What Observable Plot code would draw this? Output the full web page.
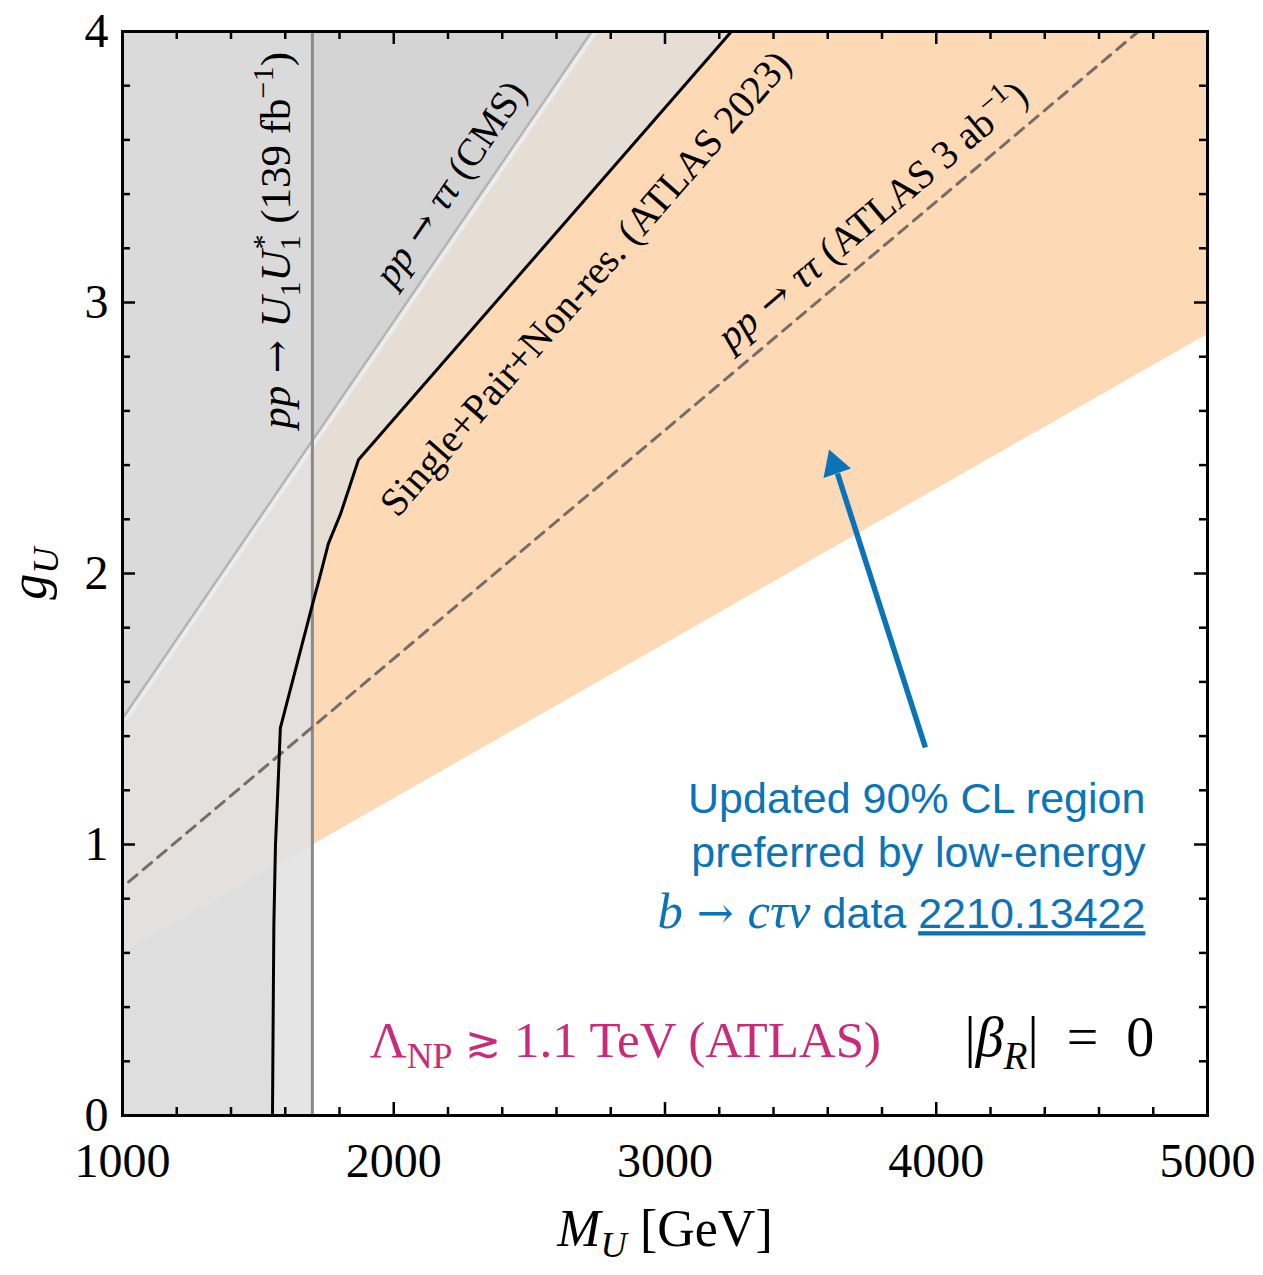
<!DOCTYPE html>
<html><head><meta charset="utf-8">
<script src="https://cdn.jsdelivr.net/npm/d3@7"></script>
<script src="https://cdn.jsdelivr.net/npm/@observablehq/plot@0.6"></script>
<style>body{margin:0;background:#fff}</style>
</head><body><div id="chart"></div>
<script>
// ---------- data ----------
const xDomain = [1000, 5000];
const yDomain = [0, 4];
const xTicks = [1000, 2000, 3000, 4000, 5000];
const yTicks = [0, 1, 2, 3, 4];
// ATLAS 2023 combined exclusion (Single+Pair+Non-res.)
const atlasM = [1553, 1555, 1558, 1564, 1571, 1582, 1704, 1723, 1759, 1804, 1870, 3245];
const atlasG = [0, 0.3, 0.7, 1.0, 1.16, 1.43, 1.90, 1.97, 2.11, 2.22, 2.42, 4.0];
// CMS pp -> tau tau boundary
const cmsM = [1000, 2730];
const cmsG = [1.465, 4.0];
// pair production bound (139 fb^-1)
const pairM = 1700;
// HL-LHC projection pp -> tau tau (ATLAS 3 ab^-1), dashed
const projM = [1000, 4745];
const projG = [0.843, 4.0];
// lower edge of the preferred 90% CL region
const prefM = [1000, 5000];
const prefG = [0.60, 2.885];
// blue arrow (shaft start, shaft end) and head centre
const arrowM = [3960, 3636];
const arrowG = [1.358, 2.369];
const headM = [3625];
const headG = [2.399];
// text labels
const labelText = [
  "pp → U1U1* (139 fb-1)",
  "pp → ττ (CMS)",
  "Single+Pair+Non-res. (ATLAS 2023)",
  "pp → ττ (ATLAS 3ab-1)"
];
const labelM = [1568, 2209, 2707, 3765];
const labelG = [3.229, 3.439, 3.070, 3.321];
const labelAngle = [-90, -55.7, -48.9, -40.1];
const blueLines = ["Updated 90% CL region", "preferred by low-energy", "b → cτν data 2210.13422"];
const blueG = [1.166, 0.967, 0.742];
const blueM = 4771;
const lambdaText = "ΛNP ≳ 1.1 TeV (ATLAS)";
const betaText = "|βR| = 0";

// ---------- geometry helpers ----------
const lin = (M, G) => m => G[0] + (G[1] - G[0]) * (m - M[0]) / (M[1] - M[0]);
const prefAt = lin(prefM, prefG);
const cmsAt = lin(cmsM, cmsG);
function clipBelow(poly, f) {
  const out = [];
  for (let i = 0; i < poly.length; i++) {
    const a = poly[i], b = poly[(i + 1) % poly.length];
    const da = f(a[0]) - a[1], db = f(b[0]) - b[1];
    if (da >= 0) out.push(a);
    if ((da >= 0) !== (db >= 0)) {
      const t = da / (da - db);
      out.push([a[0] + t * (b[0] - a[0]), a[1] + t * (b[1] - a[1])]);
    }
  }
  return out;
}
const [x0, x1] = xDomain, [y0, y1] = yDomain;
const orangePoly = [[prefM[0], prefG[0]], [prefM[1], prefG[1]], [x1, y1], [x0, y1]];
const atlasPoly = [[x0, y0], ...atlasM.map((m, i) => [m, atlasG[i]]), [x0, y1]];
const pairPoly = [[x0, y0], [pairM, y0], [pairM, y1], [x0, y1]];
const pairBelow = [[x0, y0], [pairM, y0], [pairM, prefAt(pairM)], [x0, prefAt(x0)]];
const atlasBelow = clipBelow(atlasPoly, prefAt);
const cmsLeft = [[cmsM[0], cmsG[0]], [pairM, cmsAt(pairM)], [pairM, y1], [x0, y1]];
const cmsRight = [[pairM, cmsAt(pairM)], [cmsM[1], cmsG[1]], [pairM, y1]];

const poly = (pts, fill) => Plot.line(pts, {x: d => d[0], y: d => d[1], fill, stroke: "none"});

// tick marks (inward, on all four sides)
const pxX = 1085 / (x1 - x0), pxY = 1084 / (y1 - y0);
const majLx = 13 / pxX, minLx = 8 / pxX, majLy = 13 / pxY, minLy = 8 / pxY;
const xMinor = d3.range(x0, x1 + 1, 200).filter(v => !xTicks.includes(v));
const yMinor = d3.range(0, 21).map(i => i / 5).filter(v => !yTicks.includes(v));
const tk = {stroke: "black", strokeWidth: 2.5};

const serif = "'Liberation Serif','DejaVu Serif',serif";
const sans = "'Liberation Sans','DejaVu Sans',sans-serif";
const arrowFont = "'DejaVu Serif',serif";
const blue = "#0b74b9";

const marks = [
  poly(orangePoly, "#fdd9b5"),
  poly(atlasPoly, "#e6ddd5"),
  poly(pairPoly, "#e3e0dd"),
  poly(pairBelow, "#e5e5e5"),
  poly(atlasBelow, "#dedede"),
  poly(cmsRight, "#d4d4d4"),
  poly(cmsLeft, "#dadada"),
  // CMS edge
  Plot.line(cmsM.map((m, i) => [m, cmsG[i]]), {x: d => d[0], y: d => d[1], stroke: "#ececec", strokeWidth: 5, dx: 3.5, clip: true}),
  Plot.line(cmsM.map((m, i) => [m, cmsG[i]]), {x: d => d[0], y: d => d[1], stroke: "#b4b4b4", strokeWidth: 2.5}),
  // pair line
  Plot.ruleX([pairM], {x: d => d, y1: y0, y2: y1, stroke: "#8a8a8a", strokeWidth: 3}),
  // projection dashed
  Plot.line(projM.map((m, i) => [m, projG[i]]), {x: d => d[0], y: d => d[1], stroke: "#756d68", strokeWidth: 3, strokeDasharray: "11,8", strokeDashoffset: -8}),
  // ATLAS boundary
  Plot.line(atlasM.map((m, i) => [m, atlasG[i]]), {x: d => d[0], y: d => d[1], stroke: "black", strokeWidth: 3}),
  // arrow
  Plot.link([0], {x1: () => arrowM[0], y1: () => arrowG[0], x2: () => arrowM[1], y2: () => arrowG[1], stroke: blue, strokeWidth: 5.5}),
  Plot.dot([0], {x: () => headM[0], y: () => headG[0], symbol: "triangle", r: 10.8, rotate: -19, fill: blue, stroke: "none"}),
  // ticks
  Plot.ruleX(xTicks, {x: d => d, y1: y0, y2: y0 + majLy, ...tk}),
  Plot.ruleX(xMinor, {x: d => d, y1: y0, y2: y0 + minLy, ...tk}),
  Plot.ruleX(xTicks, {x: d => d, y1: y1 - majLy, y2: y1, ...tk}),
  Plot.ruleX(xMinor, {x: d => d, y1: y1 - minLy, y2: y1, ...tk}),
  Plot.ruleY(yTicks, {y: d => d, x1: x0, x2: x0 + majLx, ...tk}),
  Plot.ruleY(yMinor, {y: d => d, x1: x0, x2: x0 + minLx, ...tk}),
  Plot.ruleY(yTicks, {y: d => d, x1: x1 - majLx, x2: x1, ...tk}),
  Plot.ruleY(yMinor, {y: d => d, x1: x1 - minLx, x2: x1, ...tk}),
  Plot.frame({stroke: "black", strokeWidth: 3}),
  // rotated labels
  ...labelText.map((t, i) => Plot.text([t], {
    x: () => labelM[i], y: () => labelG[i], text: d => d, rotate: labelAngle[i],
    fontSize: [43, 39, 40, 40][i], fill: "black", fontFamily: serif
  })),
  // blue annotation
  ...blueLines.map((t, i) => Plot.text([t], {
    x: () => blueM, y: () => blueG[i], text: d => d, textAnchor: "end",
    fontSize: 43, fill: blue, fontFamily: sans
  })),
  Plot.text([lambdaText], {x: () => 2854, y: () => 0.277, text: d => d, fontSize: 51, fill: "#c92a7a", fontFamily: serif}),
  Plot.text([betaText], {x: () => 4454, y: () => 0.284, text: d => d, fontSize: 56, fill: "black", fontFamily: serif}),
  // axis titles
  Plot.text(["M_U [GeV]"], {frameAnchor: "bottom", dy: 130, text: d => d, fontSize: 52, fontFamily: serif}),
  Plot.text(["g_U"], {frameAnchor: "left", textAnchor: "middle", dx: -93, rotate: -90, text: d => d, fontSize: 52, fontFamily: serif})
];

const plot = Plot.plot({
  width: 1263, height: 1275,
  marginTop: 31, marginRight: 56, marginBottom: 160, marginLeft: 122,
  style: {fontFamily: serif, fontSize: "48px", color: "black", background: "white"},
  x: {domain: xDomain, ticks: xTicks, tickFormat: d3.format("d"), tickSize: 0, tickPadding: 27, label: null},
  y: {domain: yDomain, ticks: yTicks, tickFormat: d3.format("d"), tickSize: 0, tickPadding: 14, label: null},
  marks
});
document.getElementById("chart").append(plot);

// ---------- rich text (sub/superscripts, italics) ----------
const AR = {f: arrowFont, s: 0.92};
const rich = {
  "pp → U1U1* (139 fb-1)": [["pp", {i: 1}], [" → ", AR], ["U", {i: 1}], ["1", {sub: 1}], ["U", {i: 1}], ["1", {sub: 1}], ["*", {sup: 1, dx: -0.33}], [" (139 fb", {}], ["−1", {sup: 1}], [")", {}]],
  "pp → ττ (CMS)": [["pp", {i: 1}], [" → ", AR], ["ττ", {i: 1}], [" (CMS)", {}]],
  "pp → ττ (ATLAS 3ab-1)": [["pp", {i: 1}], [" → ", AR], ["ττ", {i: 1}], [" (ATLAS 3 ab", {}], ["−1", {sup: 1}], [")", {}]],
  "b → cτν data 2210.13422": [["b", {i: 1, f: serif, s: 1.18}], [" → ", {f: arrowFont, s: 1.02}], ["cτν", {i: 1, f: serif, s: 1.18}], [" data ", {}], ["2210.13422", {u: 1}]],
  "ΛNP ≳ 1.1 TeV (ATLAS)": [["Λ", {}], ["NP", {sub: 1}], [" ", {}], ["≳", {f: arrowFont, s: 0.85}], [" 1.1 TeV (ATLAS)", {}]],
  "|βR| = 0": [["|", {}], ["β", {i: 1}], ["R", {sub: 1, i: 1}], ["|\u2002=\u20020", {}]],
  "M_U [GeV]": [["M", {i: 1}], ["U", {sub: 1, i: 1}], [" [GeV]", {}]],
  "g_U": [["g", {i: 1}], ["U", {sub: 1, i: 1}]]
};
plot.querySelectorAll("text").forEach(t => {
  const spec = rich[t.textContent];
  if (!spec) return;
  const fs = parseFloat(getComputedStyle(t).fontSize);
  t.textContent = "";
  let cur = 0;
  for (const [s, o] of spec) {
    const ts = document.createElementNS("http://www.w3.org/2000/svg", "tspan");
    ts.textContent = s;
    const target = o.sub ? 0.22 * fs : o.sup ? -0.4 * fs : 0;
    if (target - cur) ts.setAttribute("dy", target - cur);
    cur = target;
    if (o.sub || o.sup) ts.setAttribute("font-size", 0.7 * fs);
    else if (o.s) ts.setAttribute("font-size", fs * o.s);
    if (o.i) ts.setAttribute("font-style", "italic");
    if (o.f) ts.setAttribute("font-family", o.f);
    if (o.u) ts.setAttribute("text-decoration", "underline");
    if (o.dx) ts.setAttribute("dx", o.dx * fs);
    t.appendChild(ts);
  }
});
</script>
</body></html>
